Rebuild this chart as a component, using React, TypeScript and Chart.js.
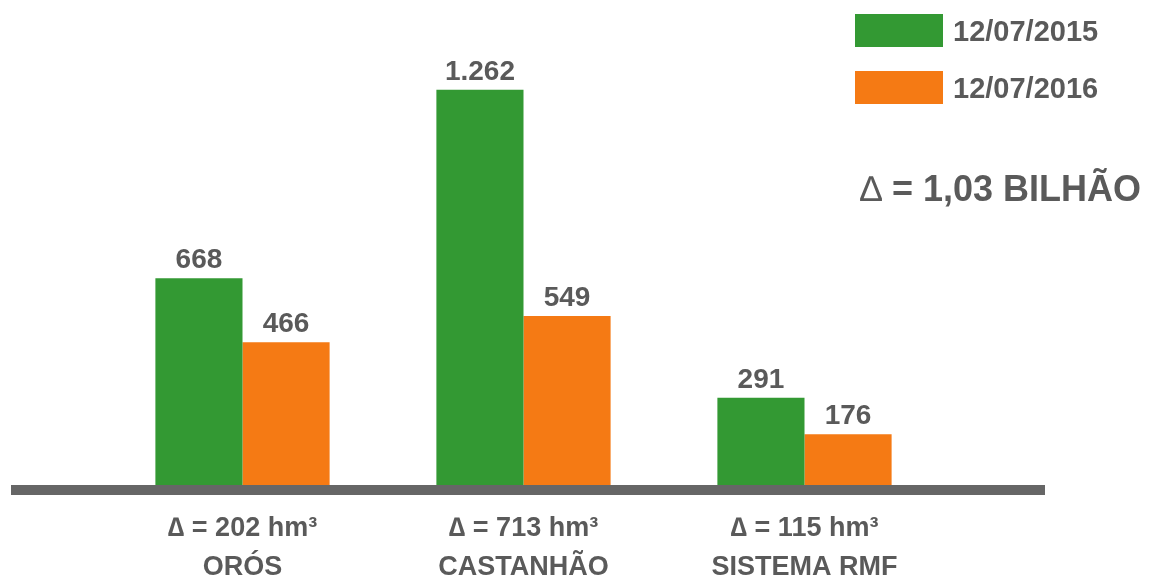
import React, { useEffect, useRef } from "react";
import { Chart, registerables } from "chart.js";

Chart.register(...registerables);

// ---- data ----
const reservoirs = ["ORÓS", "CASTANHÃO", "SISTEMA RMF"];
const deltas = [202, 713, 115];
const series2015 = [668, 1262, 291];
const series2016 = [466, 549, 176];
const seriesNames = ["12/07/2015", "12/07/2016"];
const totalDeltaText = "1,03 BILHÃO";

const FONT = '"Liberation Sans", Arial, Helvetica, sans-serif';
const TEXT = "#5a5a5a";
const GREEN = "#339933";
const ORANGE = "#f57a14";

function fmt(v: number): string {
  if (v >= 1000) {
    return Math.floor(v / 1000) + "." + String(v % 1000).padStart(3, "0");
  }
  return String(v);
}

const baselinePlugin = {
  id: "baseline",
  afterDatasetsDraw(chart: any) {
    const ctx = chart.ctx;
    const y = chart.scales.y.getPixelForValue(0);
    ctx.save();
    ctx.fillStyle = "#666666";
    ctx.fillRect(11, y - 5, 1034, 10);
    ctx.restore();
  },
};

const valueLabelPlugin = {
  id: "valueLabels",
  afterDatasetsDraw(chart: any) {
    const ctx = chart.ctx;
    ctx.save();
    ctx.font = `bold 28px ${FONT}`;
    ctx.fillStyle = TEXT;
    ctx.textAlign = "center";
    ctx.textBaseline = "alphabetic";
    chart.data.datasets.forEach((ds: any, i: number) => {
      const meta = chart.getDatasetMeta(i);
      meta.data.forEach((el: any, j: number) => {
        ctx.fillText(fmt(ds.data[j]), el.x, el.y - 10);
      });
    });
    ctx.restore();
  },
};

const legendPlugin = {
  id: "customLegend",
  afterDraw(chart: any) {
    const ctx = chart.ctx;
    ctx.save();
    chart.data.datasets.forEach((ds: any, i: number) => {
      const top = 14 + i * 57;
      ctx.fillStyle = ds.backgroundColor;
      ctx.fillRect(855, top, 88, 33);
      ctx.fillStyle = TEXT;
      ctx.font = `bold 29px ${FONT}`;
      ctx.textAlign = "left";
      ctx.textBaseline = "middle";
      ctx.fillText(ds.label, 953, top + 19);
    });
    // total delta annotation
    ctx.fillStyle = TEXT;
    ctx.textBaseline = "middle";
    ctx.textAlign = "left";
    ctx.font = `normal 36px ${FONT}`;
    const d = "∆ ";
    ctx.fillText(d, 860, 191);
    const dw = ctx.measureText(d).width;
    ctx.font = `bold 36px ${FONT}`;
    ctx.fillText("= " + totalDeltaText, 860 + dw, 191);
    ctx.restore();
  },
};

export default function App() {
  const ref = useRef<HTMLCanvasElement | null>(null);

  useEffect(() => {
    if (!ref.current) return;
    const labels = reservoirs.map((r, i) => [`∆ = ${deltas[i]} hm³`, r]);
    const chart = new Chart(ref.current, {
      type: "bar",
      data: {
        labels,
        datasets: [
          {
            label: seriesNames[0],
            data: series2015,
            backgroundColor: GREEN,
            borderWidth: 0,
          },
          {
            label: seriesNames[1],
            data: series2016,
            backgroundColor: ORANGE,
            borderWidth: 0,
          },
        ],
      },
      options: {
        animation: false,
        responsive: false,
        devicePixelRatio: 1,
        layout: { padding: { left: 102, right: 208, top: 46, bottom: 0 } },
        datasets: {
          bar: { categoryPercentage: 0.62, barPercentage: 1.0 },
        },
        plugins: {
          legend: { display: false },
          tooltip: { enabled: false },
          title: { display: false },
        },
        scales: {
          x: {
            type: "category",
            grid: { display: false },
            border: { display: false },
            ticks: {
              color: TEXT,
              font: { family: FONT, size: 27, weight: "bold", lineHeight: 1.44 },
              padding: 11,
              maxRotation: 0,
              autoSkip: false,
            },
            afterFit: (s: any) => {
              s.height = 89;
            },
          },
          y: {
            display: false,
            min: 0,
            max: 1400,
          },
        },
      } as any,
      plugins: [baselinePlugin, valueLabelPlugin, legendPlugin],
    });
    return () => chart.destroy();
  }, []);

  return (
    <div style={{ position: "fixed", left: 0, top: 0, width: 1153, height: 579, background: "#ffffff" }}>
      <canvas ref={ref} width={1153} height={579} style={{ display: "block" }} />
    </div>
  );
}
